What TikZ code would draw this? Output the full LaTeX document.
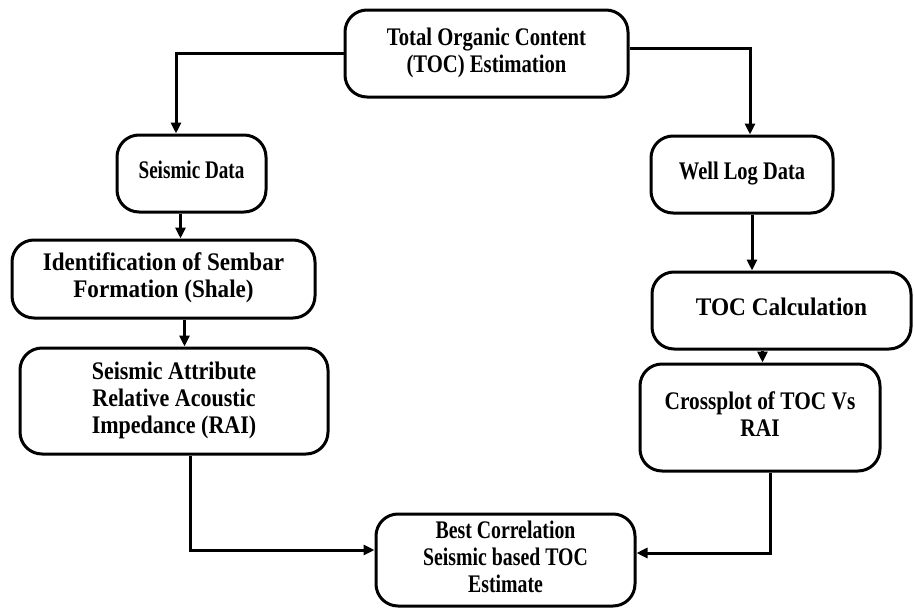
\documentclass[tikz,border=0pt]{standalone}
\usepackage{fontspec}
\usepackage{graphicx}
\setmainfont{Liberation Serif}
\usetikzlibrary{arrows.meta,calc}
\newcommand{\boxtxt}[2]{\scalebox{#1}[1.15]{\begin{tabular}{@{}c@{}}#2\end{tabular}}}
\begin{document}
\begin{tikzpicture}[x=1pt,y=-1pt,
  box/.style={draw=black,line width=3pt,rounded corners=22pt,align=center,
    font=\fontsize{22}{23.5}\selectfont\bfseries,inner sep=2pt},
  arr/.style={line width=3pt,-{Triangle[length=11pt,width=10pt]}}]
\useasboundingbox (0,0) rectangle (914,608);
\node[box,minimum width=283pt,minimum height=87pt] (top) at (486.5,53.5) {\boxtxt{0.94}{Total Organic Content\\(TOC) Estimation}};
\node[box,minimum width=149pt,minimum height=77pt] (sd) at (191.5,173.5) {\boxtxt{0.87}{Seismic Data}};
\node[box,minimum width=182pt,minimum height=77pt] (wl) at (742,174.5) {\boxtxt{0.93}{Well Log Data}};
\node[box,minimum width=303pt,minimum height=78pt] (id) at (163.5,279) {\boxtxt{1.05}{Identification of Sembar\\Formation (Shale)}};
\node[box,minimum width=259pt,minimum height=77pt] (tc) at (781.5,310.5) {\boxtxt{1.06}{TOC Calculation}};
\node[box,minimum width=308pt,minimum height=106pt] (sa) at (174,401) {\boxtxt{1.0}{Seismic Attribute\\Relative Acoustic\\Impedance (RAI)}};
\node[box,minimum width=240pt,minimum height=107pt] (cp) at (760,417.5) {\boxtxt{0.97}{Crossplot of TOC Vs\\RAI}};
\node[box,minimum width=259pt,minimum height=92pt] (bc) at (505.5,560) {\boxtxt{0.9}{Best Correlation\\Seismic based TOC\\Estimate}};
\draw[arr] (top.west) -| ([xshift=-15.5pt]sd.north);
\draw[arr] ([yshift=5pt]top.east) -| ([xshift=8pt]wl.north);
\draw[arr] ([xshift=-11pt]sd.south) -- ([xshift=-11pt]sd.south |- id.north);
\draw[arr] ([xshift=21pt]id.south) -- ([xshift=21pt]id.south |- sa.north);
\draw[arr] ([xshift=10pt]wl.south) -- ([xshift=10pt]wl.south |- tc.north);
\draw[arr] ([xshift=-19pt]tc.south) -- ([xshift=-19pt]tc.south |- cp.north);
\draw[arr] ([xshift=16pt]sa.south) |- ([yshift=10pt]bc.west);
\draw[arr] ([xshift=10pt]cp.south) |- ([yshift=7pt]bc.east);
\end{tikzpicture}
\end{document}
